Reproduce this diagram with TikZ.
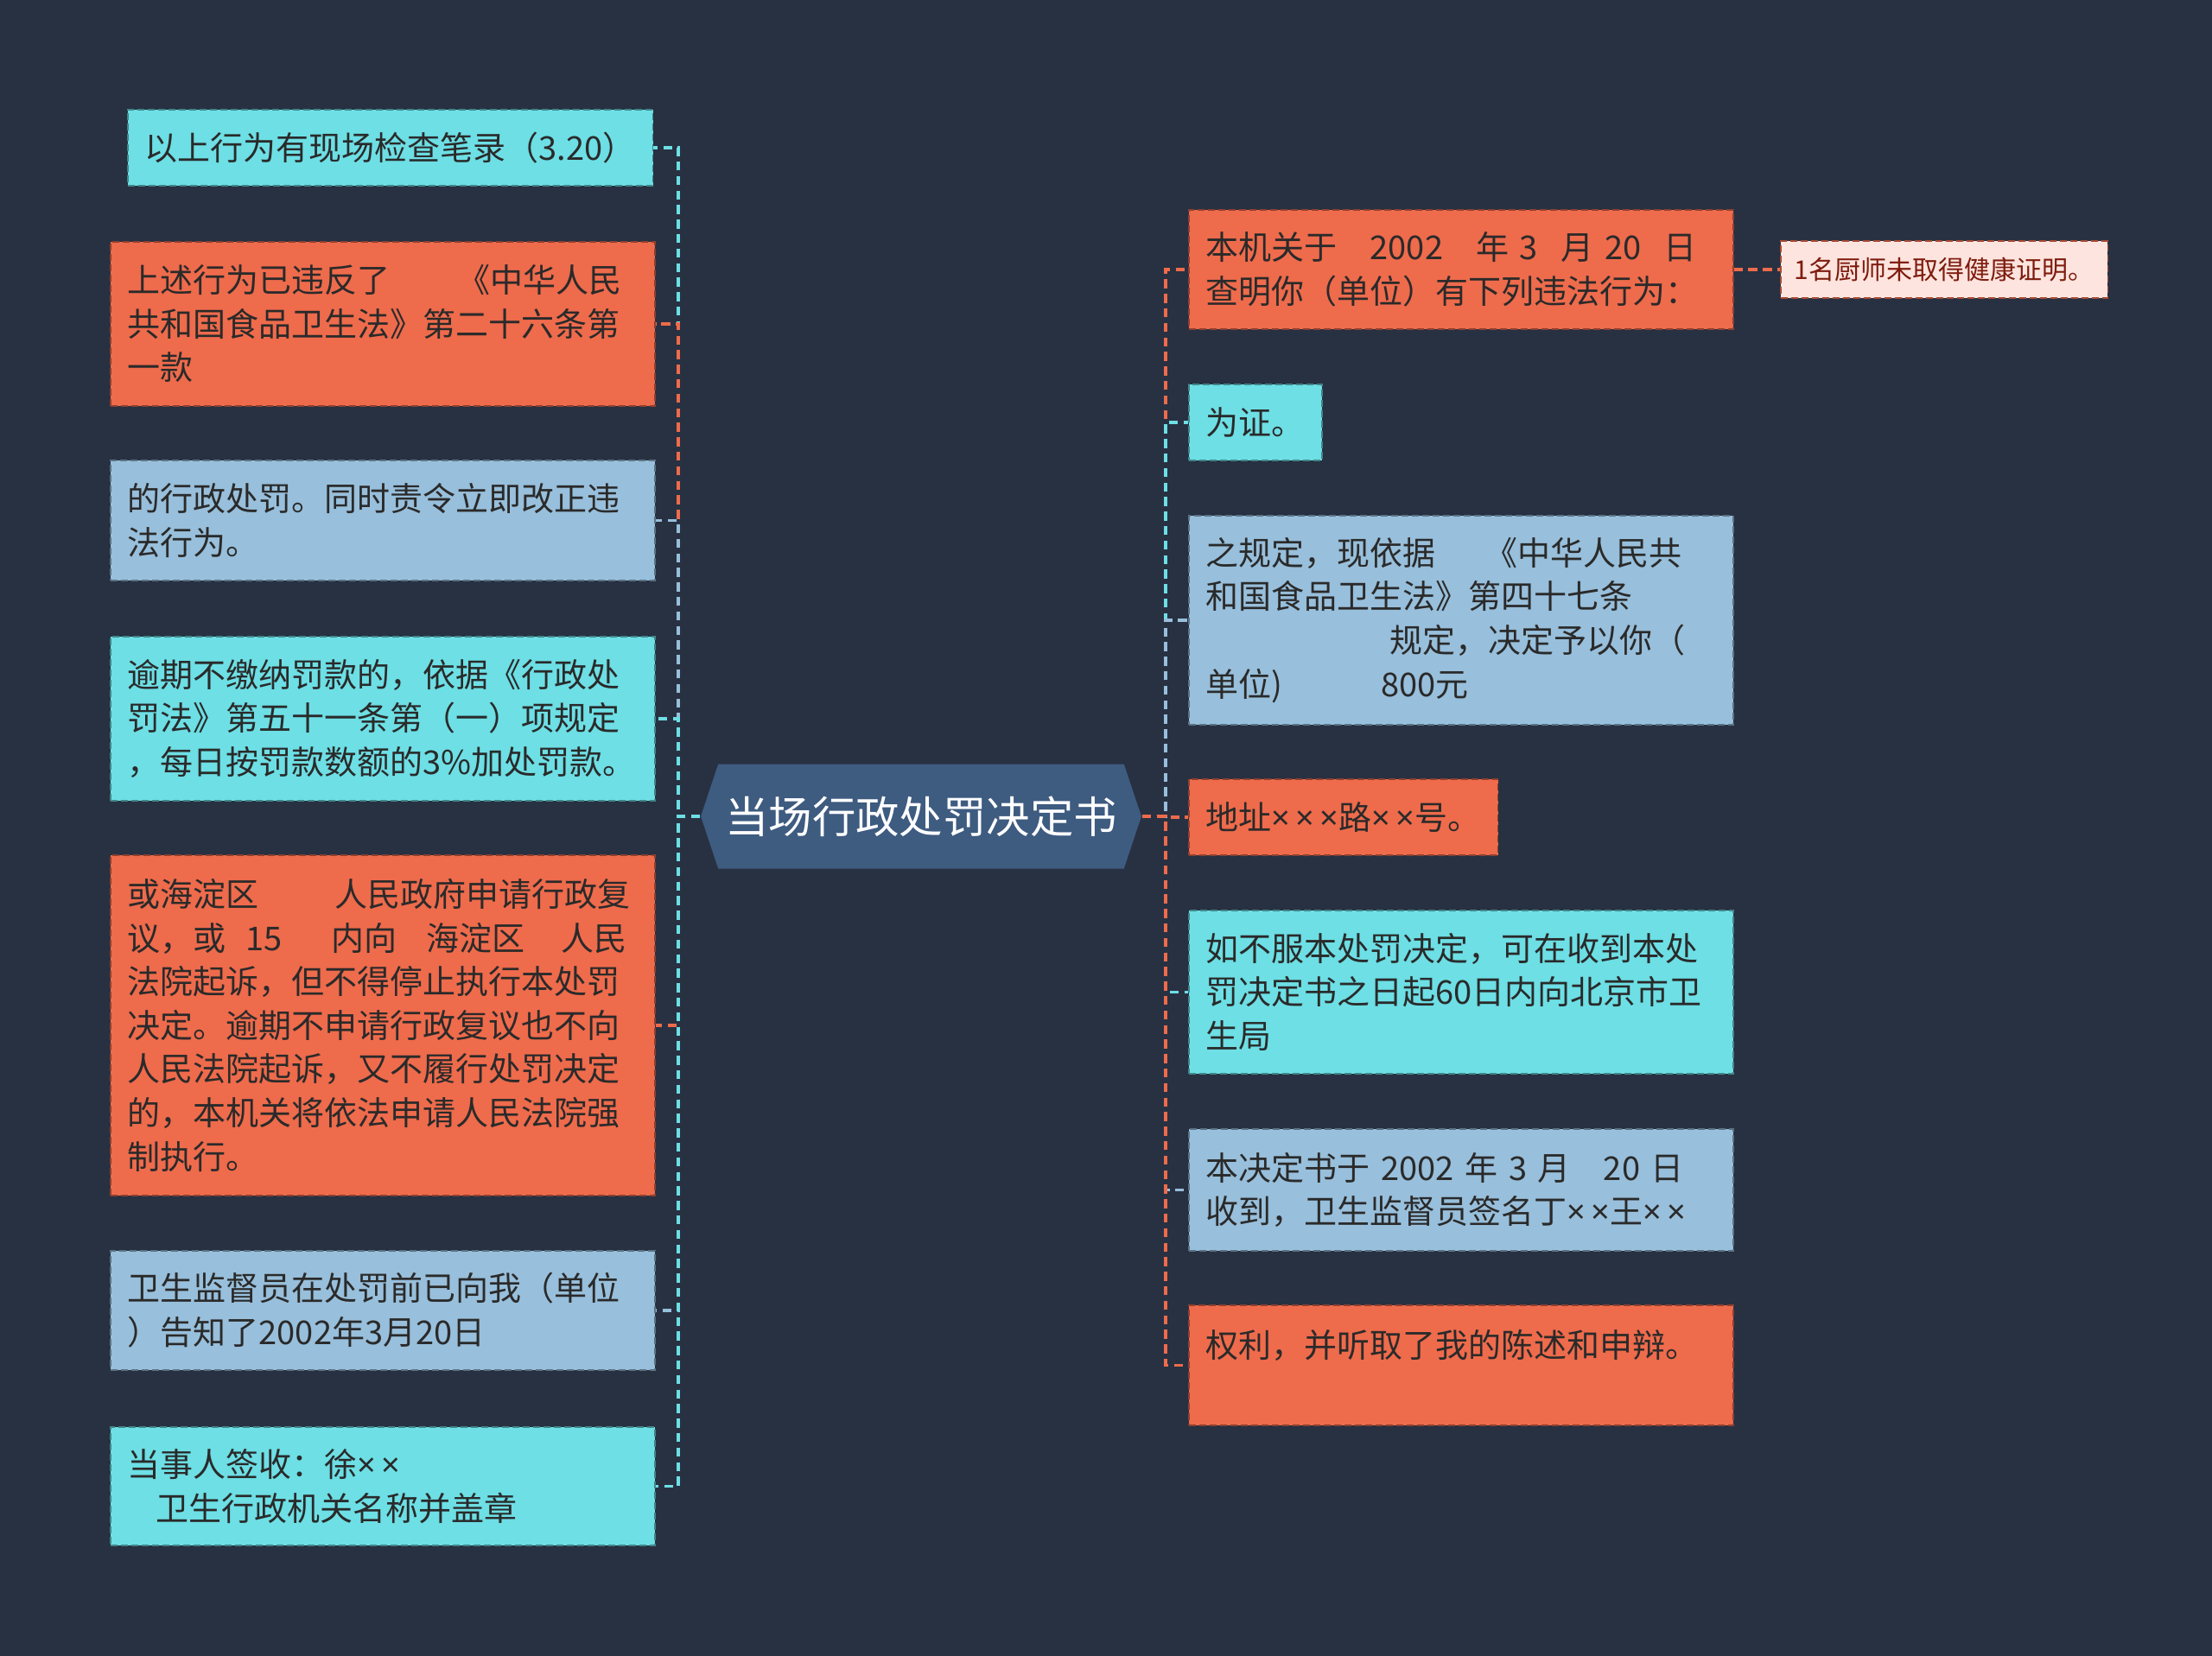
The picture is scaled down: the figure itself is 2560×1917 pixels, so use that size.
\documentclass[tikz,border=0pt]{standalone}
\usepackage{fontspec}
\newfontfamily\cjk{Noto Sans CJK SC}
\newfontfamily\latin{Noto Sans}
\newcommand{\xx}{{\latin ×}}
\usetikzlibrary{shapes.symbols}
\definecolor{bgnavy}{HTML}{283142}
\definecolor{rootblue}{HTML}{3E5B80}
\definecolor{aqua}{HTML}{6DDFE5}
\definecolor{coral}{HTML}{EE6B4C}
\definecolor{sky}{HTML}{98BFDB}
\definecolor{blush}{HTML}{FDE4DE}
\definecolor{ink}{HTML}{2A2A2A}
\definecolor{maroon}{HTML}{7E1C0E}
\begin{document}
\begin{tikzpicture}[x=0.25pt, y=-0.25pt,
  box/.style={anchor=north west, align=left, inner xsep=5pt, inner ysep=0pt,
    text=ink, font=\cjk\fontsize{9.5}{12.65}\selectfont,
    dash pattern=on 2pt off 1pt, line width=0.4pt},
  wide/.style={text width=147.5pt},
  aquabox/.style={box, fill=aqua, draw=aqua!60!black},
  coralbox/.style={box, fill=coral, draw=coral!60!black},
  skybox/.style={box, fill=sky, draw=sky!60!black},
  notebox/.style={box, fill=blush, draw=coral!70!black, text=maroon,
    font=\cjk\fontsize{7.5}{9}\selectfont, inner xsep=4pt, minimum height=16.5pt},
  rootnode/.style={signal, signal to=west and east, signal pointer angle=143,
    fill=rootblue, text=white, font=\cjk\fontsize{12.6}{15}\selectfont,
    minimum width=127.5pt, minimum height=30.25pt, inner sep=0pt},
  link/.style={line width=0.9pt, dash pattern=on 2.6pt off 1.6pt}]
  \fill[bgnavy] (0,0) rectangle (2560,1917);
  % centre
  \node[rootnode] (root) at (1066,945) {当场行政处罚决定书};
  % left side
  \node[aquabox, minimum height=22pt] (l1) at (147,126) {以上行为有现场检查笔录（3.20）};
  \node[coralbox, wide, minimum height=47.5pt] (l2) at (127,279)
    {上述行为已违反了\hspace{2.05em}《中华人民\\共和国食品卫生法》第二十六条第\\一款};
  \node[skybox, wide, minimum height=34.75pt] (l3) at (127,532)
    {的行政处罚。同时责令立即改正违\\法行为。};
  \node[aquabox, wide, minimum height=47.5pt] (l4) at (127,736)
    {逾期不缴纳罚款的，依据《行政处\\罚法》第五十一条第（一）项规定\\，每日按罚款数额的3\%加处罚款。};
  \node[coralbox, wide, minimum height=98.5pt] (l5) at (127,989)
    {或海淀区\hspace{2.3em}人民政府申请行政复\\议，或\hspace{0.6em}15\hspace{1.5em}内向\hspace{0.9em}海淀区\hspace{1.1em}人民\\法院起诉，但不得停止执行本处罚\\决定。逾期不申请行政复议也不向\\人民法院起诉，又不履行处罚决定\\的，本机关将依法申请人民法院强\\制执行。};
  \node[skybox, wide, minimum height=34.5pt] (l6) at (127,1447)
    {卫生监督员在处罚前已向我（单位\\）告知了2002年3月20日};
  \node[aquabox, wide, minimum height=34.25pt] (l7) at (127,1651)
    {当事人签收：徐\xx\,\xx\\\hspace*{0.85em}卫生行政机关名称并盖章};
  % right side
  \node[coralbox, wide, minimum height=34.5pt] (r1) at (1375,242)
    {本机关于\hspace{1em}2002\hspace{1em}年 3\hspace{0.7em}月 20\hspace{0.7em}日\\查明你（单位）有下列违法行为：};
  \node[notebox] (c1) at (2060,278) {1名厨师未取得健康证明。};
  \node[aquabox, minimum height=22pt] (r2) at (1375,444) {为证。};
  \node[skybox, wide, minimum height=60.5pt] (r3) at (1375,596)
    {之规定，现依据\hspace{1.5em}《中华人民共\\和国食品卫生法》第四十七条\\\hspace*{5.6em}规定，决定予以你（\\单位)\hspace{3em}800元};
  \node[coralbox, minimum height=22pt] (r4) at (1375,901) {地址\xx\,\xx\,\xx 路\xx\,\xx 号。};
  \node[aquabox, wide, minimum height=47.25pt] (r5) at (1375,1053)
    {如不服本处罚决定，可在收到本处\\罚决定书之日起60日内向北京市卫\\生局};
  \node[skybox, wide, minimum height=35.25pt] (r6) at (1375,1306)
    {本决定书于 2002 年 3 月\hspace{1em}20 日\\收到，卫生监督员签名丁\xx\,\xx 王\xx\,\xx};
  \node[coralbox, wide, minimum height=34.75pt] (r7) at (1375,1510)
    {权利，并听取了我的陈述和申辩。\\\mbox{}};
  % connectors
  \coordinate (lspine) at (785,945);
  \coordinate (rspine) at (1349,945);
  \foreach \n/\c in {l1/aqua, l2/coral, l3/sky, l4/aqua, l5/coral, l6/sky, l7/aqua}
    \draw[link, \c] (root.west) -- (lspine) |- (\n.east);
  \foreach \n/\c in {r1/coral, r2/aqua, r3/sky, r4/coral, r5/aqua, r6/sky, r7/coral}
    \draw[link, \c] (root.east) -- (rspine) |- (\n.west);
  \draw[link, coral] (r1.east) -- (c1.west);
\end{tikzpicture}
\end{document}
